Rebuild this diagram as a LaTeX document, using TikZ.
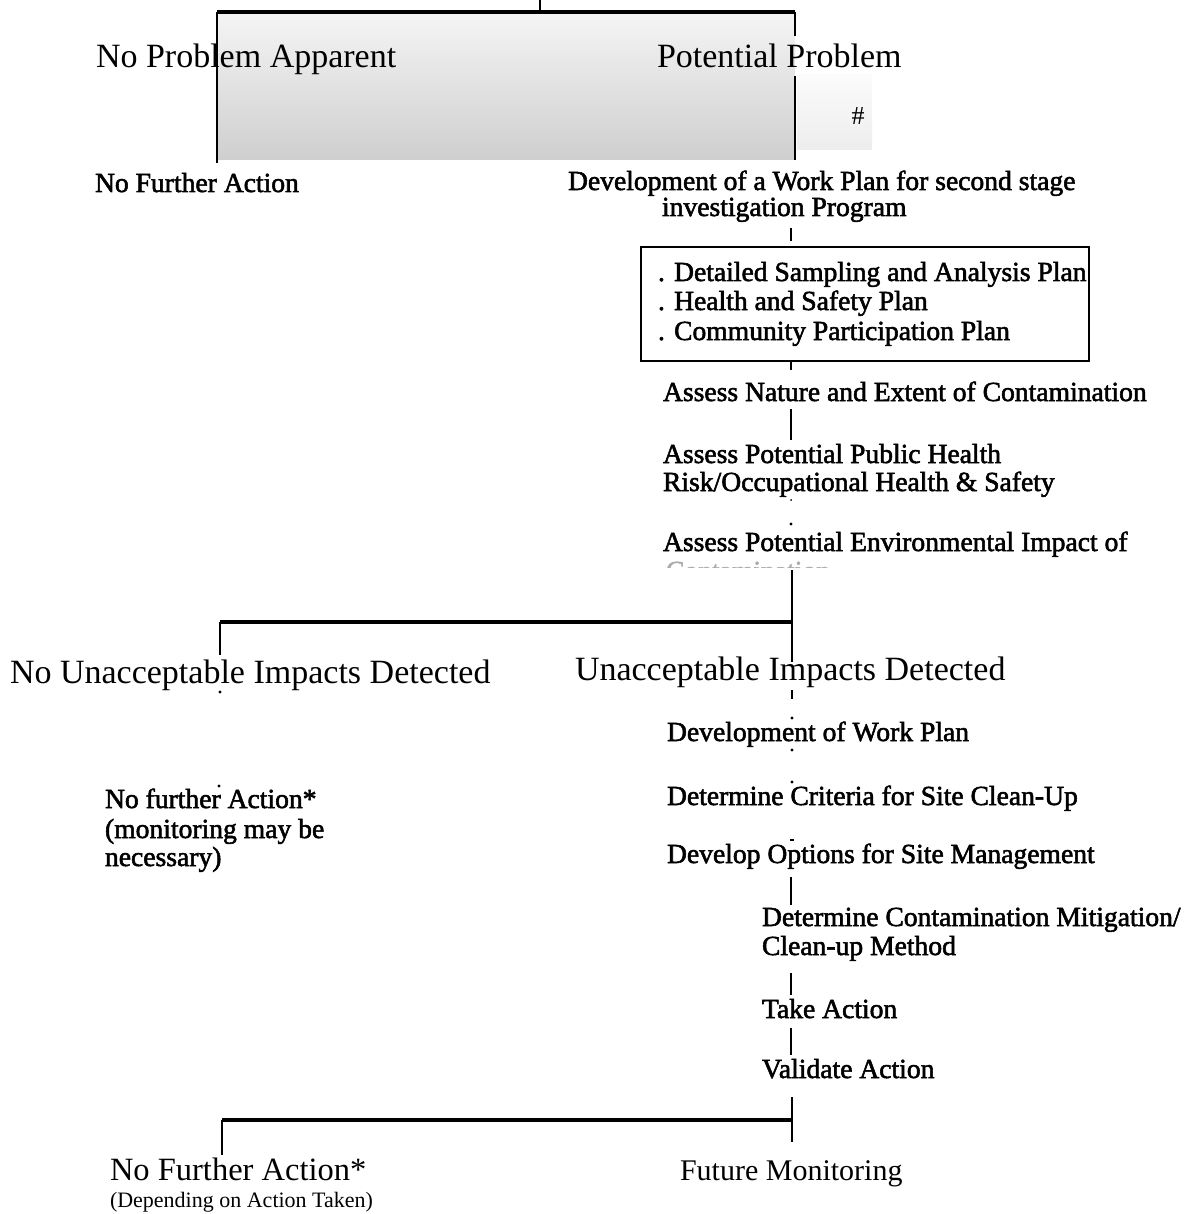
\documentclass[tikz,border=0pt]{standalone}
\usepackage{fontspec}
\setmainfont{Liberation Serif}
\newfontfamily\heavyf[FakeBold=2]{Liberation Serif}
\usetikzlibrary{calc}
\begin{document}
\begin{tikzpicture}[x=1pt,y=-1pt,
  every node/.style={inner sep=0pt, outer sep=0pt},
  big/.style={anchor=base west, font=\fontsize{34}{36}\selectfont},
  small/.style={anchor=base west, font=\heavyf\fontsize{27.6}{29}\selectfont},
  wire/.style={line width=2.8pt},
  split/.style={line width=3.2pt},
]
\useasboundingbox (0,0) rectangle (1190,1214);
% ---- top gray decision box
\fill[top color=gray!8, bottom color=gray!38] (217,12) rectangle (795,160);
\fill[top color=gray!3, bottom color=gray!14] (797,75) rectangle (872,150);
\coordinate (top) at (540,0);
\coordinate (tm) at (540,12);
\coordinate (tl) at (217,12);
\coordinate (tr) at (795,12);
\coordinate (tlb) at (217,163);
\coordinate (trb) at (795,160);
\node[big] (npa) at (96,68) {No Problem Apparent};
\node[big] (pp) at (657,68) {Potential Problem};
\node[anchor=base, font=\fontsize{26}{28}\selectfont] (hash) at (858,125) {\#};
\draw[wire] (top) -- (tm);
\draw[split] (tl) -- (tr);
\draw[wire] (tl) -- (tlb);
\draw[wire] (tr) -- (795,36);
\draw[wire] (795,76) -- (trb);
% ---- potential problem branch
\node[small] (nfa1) at (95,192) {No Further Action};
\node[small] (dwp) at (568,190) {Development of a Work Plan for second stage};
\node[small] (inv) at (662,216) {investigation Program};
\node[draw, line width=2.8pt, minimum width=448, minimum height=114, anchor=north west] (plans) at (641,247) {};
\node[small] (p1) at (658,281) {. Detailed Sampling and Analysis Plan};
\node[small] (p2) at (658,310) {. Health and Safety Plan};
\node[small] (p3) at (658,340) {. Community Participation Plan};
\node[small] (nat) at (663,401) {Assess Nature and Extent of Contamination};
\node[small] (ph1) at (663,463) {Assess Potential Public Health};
\node[small] (ph2) at (663,491) {Risk/Occupational Health \& Safety};
\node[small] (env) at (663,551) {Assess Potential Environmental Impact of};
\begin{scope}
\clip (650,561) rectangle (900,567);
\node[small, text=gray!65] (envc) at (666,580) {Contamination};
\end{scope}
\coordinate (sp) at (791,0);
\draw[wire] ($(inv.south -| sp)+(0,6)$) -- ($(plans.north -| sp)+(0,-6)$);
\draw[wire] (plans.south -| sp) -- ($(nat.north -| sp)+(0,-12)$);
\draw[wire] ($(nat.south -| sp)+(0,8)$) -- ($(ph1.north -| sp)+(0,-4)$);
\fill (791,500) circle (1pt);
\fill (791,524) circle (1.7pt);
% ---- impacts split
\coordinate (s1) at (792,570);
\coordinate (s1m) at (792,622);
\coordinate (s1l) at (220,622);
\draw[wire] (s1) -- (s1m);
\draw[split] (s1l) -- (s1m);
\node[big] (nui) at (10,683) {No Unacceptable Impacts Detected};
\node[big] (ui) at (575,680) {Unacceptable Impacts Detected};
\draw[wire] (s1l) -- ($(nui.north -| s1l)+(0,-4)$);
\draw[wire] (s1m) -- ($(ui.north -| s1m)+(0,6)$);
\draw[wire] ($(ui.south -| s1m)+(0,3)$) -- ($(ui.south -| s1m)+(0,12)$);
\fill (220,692) circle (1.7pt);
% ---- left outcome
\node[small] (nfa2) at (105,808) {No further Action*};
\node[small] (nfa2b) at (105,838) {(monitoring may be};
\node[small] (nfa2c) at (105,866) {necessary)};
\fill (219,786) circle (1.6pt);
% ---- right chain
\node[small] (wp) at (667,741) {Development of Work Plan};
\node[small] (crit) at (667,805) {Determine Criteria for Site Clean-Up};
\node[small] (opt) at (667,863) {Develop Options for Site Management};
\node[small] (mit1) at (762,926) {Determine Contamination Mitigation/};
\node[small] (mit2) at (762,955) {Clean-up Method};
\node[small] (take) at (762,1018) {Take Action};
\node[small] (val) at (762,1078) {Validate Action};
\fill (792,718) circle (1.6pt);
\fill (792,750) circle (1.6pt);
\fill (792,782) circle (1.6pt);
\draw[line width=1.5pt] (790,840) -- (794,840);
\draw[wire] ($(opt.south -| sp)+(0,8)$) -- ($(mit1.north -| sp)+(0,-3)$);
\draw[wire] ($(mit2.south -| sp)+(0,12)$) -- ($(take.north -| sp)+(0,-4)$);
\draw[wire] ($(take.south -| sp)+(0,10)$) -- ($(val.north -| sp)+(0,-4)$);
% ---- final split
\coordinate (s2) at (792,1097);
\coordinate (s2m) at (792,1120);
\coordinate (s2l) at (222,1120);
\coordinate (s2b) at (792,1142);
\draw[wire] (s2) -- (s2b);
\draw[split] (s2l) -- (s2m);
\node[anchor=base west, font=\fontsize{32.5}{34}\selectfont] (nfa3) at (110,1180) {No Further Action*};
\node[anchor=base west, font=\fontsize{22}{24}\selectfont] (dep) at (110,1207) {(Depending on Action Taken)};
\node[anchor=base west, font=\fontsize{30}{32}\selectfont] (fm) at (680,1180) {Future Monitoring};
\draw[wire] (s2l) -- ($(nfa3.north -| s2l)+(0,-2)$);
\end{tikzpicture}
\end{document}
